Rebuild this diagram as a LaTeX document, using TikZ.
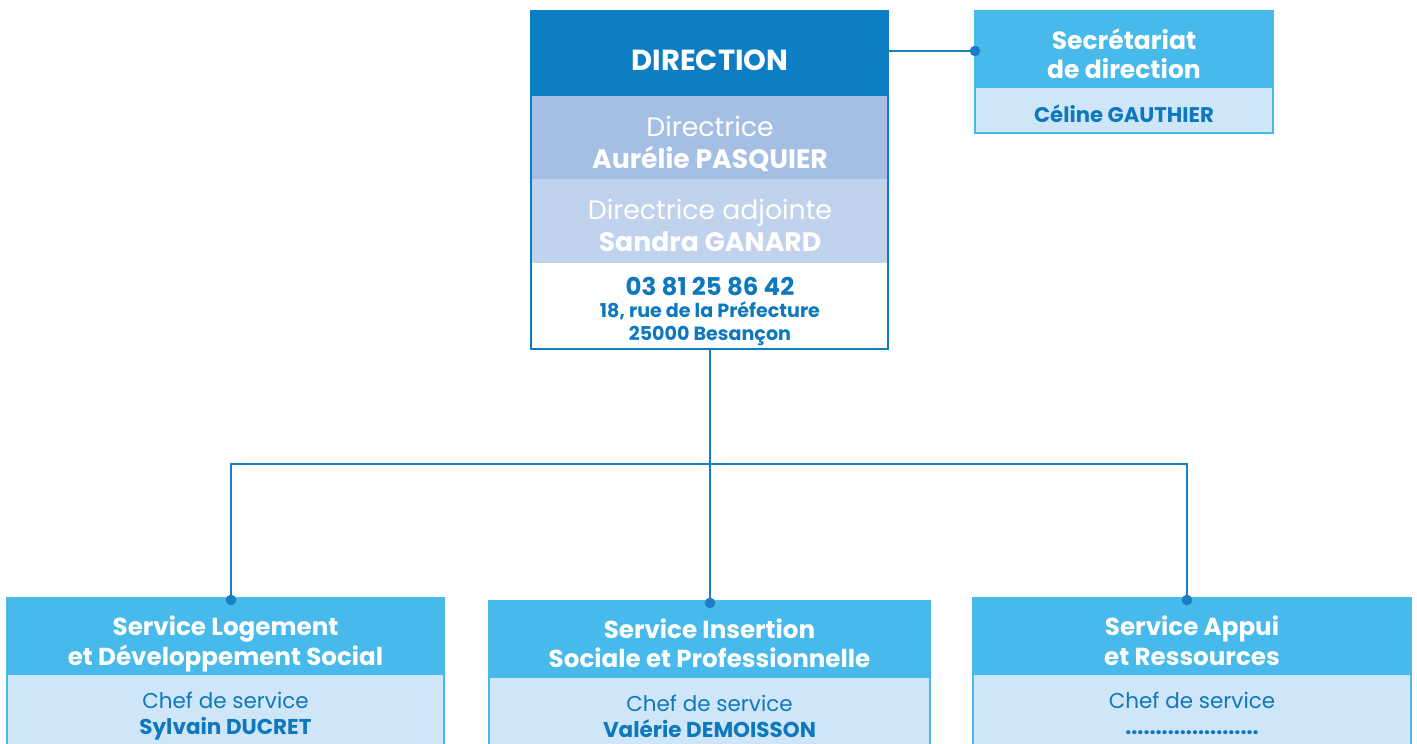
\documentclass[tikz,border=0pt]{standalone}
\usepackage{fontspec}
\setmainfont{Poppins}
\definecolor{dblue}{HTML}{0E7EC4}
\definecolor{bandA}{HTML}{A4BEE4}
\definecolor{bandB}{HTML}{C1D2ED}
\definecolor{lblue}{HTML}{47B9EA}
\definecolor{pale}{HTML}{CFE6F8}
\definecolor{conncol}{HTML}{1A7FC2}
\definecolor{tblue}{HTML}{0E78BE}
\tikzset{
  frame/.style={draw=#1, line width=2pt, inner sep=0pt, outer sep=0pt, anchor=north west},
  conn/.style={draw=conncol, line width=2pt},
  jdot/.style={fill=conncol},
  wtxt/.style={text=white, anchor=base, inner sep=0pt},
  btxt/.style={text=tblue, anchor=base, inner sep=0pt},
}
\begin{document}
\begin{tikzpicture}[x=1pt,y=-1pt]
\useasboundingbox (0,0) rectangle (1417,744);
\clip (0,0) rectangle (1417,744);
% ---------- Direction
\fill[dblue] (531,11) rectangle (888,96);
\fill[bandA] (531,96) rectangle (888,179);
\fill[bandB] (531,179) rectangle (888,263);
\node[frame=dblue, minimum width=357pt, minimum height=338pt] (dir) at (531,11) {};
\node[wtxt, font=\fontsize{29}{34}\selectfont\bfseries] (dirT) at (710,70) {DIRECTION};
\node[wtxt, font=\fontsize{26.7}{30}\selectfont] (d1) at (710,136) {Directrice};
\node[wtxt, font=\fontsize{26.7}{30}\selectfont\bfseries] (d2) at (710,168) {Aurélie PASQUIER};
\node[wtxt, font=\fontsize{26.7}{30}\selectfont] (d3) at (710,219) {Directrice adjointe};
\node[wtxt, font=\fontsize{26.7}{30}\selectfont\bfseries] (d4) at (710,251) {Sandra GANARD};
\node[btxt, font=\fontsize{24.5}{30}\selectfont\bfseries] (d5) at (710,295) {03 81 25 86 42};
\node[btxt, font=\fontsize{19.1}{23}\selectfont\bfseries] (d6) at (710,317) {18, rue de la Préfecture};
\node[btxt, font=\fontsize{19.1}{23}\selectfont\bfseries] (d7) at (710,340) {25000 Besançon};
% ---------- Secretariat
\fill[lblue] (975,11) rectangle (1273,88);
\fill[pale] (975,88) rectangle (1273,133);
\node[frame=lblue, minimum width=298pt, minimum height=122pt] (sec) at (975,11) {};
\node[wtxt, font=\fontsize{25}{30}\selectfont\bfseries] (s1) at (1124,49) {Secrétariat};
\node[wtxt, font=\fontsize{25}{30}\selectfont\bfseries] (s2) at (1124,78) {de direction};
\node[btxt, font=\fontsize{21.2}{24}\selectfont\bfseries] (s3) at (1124,122) {Céline GAUTHIER};
% ---------- Services
\fill[lblue] (7,598) rectangle (444,675);
\fill[pale] (7,675) rectangle (444,760);
\node[frame=lblue, minimum width=437pt, minimum height=170pt] (svA) at (7,598) {};
\node[wtxt, font=\fontsize{24.6}{29}\selectfont\bfseries] (a1) at (225.5,635) {Service Logement};
\node[wtxt, font=\fontsize{24.6}{29}\selectfont\bfseries] (a2) at (225.5,665) {et Développement Social};
\node[btxt, font=\fontsize{21.5}{26}\selectfont] (a3) at (225.5,708) {Chef de service};
\node[btxt, font=\fontsize{21.5}{26}\selectfont\bfseries] (a4) at (225.5,734) {Sylvain DUCRET};

\fill[lblue] (489,601) rectangle (930,678);
\fill[pale] (489,678) rectangle (930,760);
\node[frame=lblue, minimum width=441pt, minimum height=170pt] (svB) at (489,601) {};
\node[wtxt, font=\fontsize{24.6}{29}\selectfont\bfseries] (b1) at (709.5,638) {Service Insertion};
\node[wtxt, font=\fontsize{24.6}{29}\selectfont\bfseries] (b2) at (709.5,667) {Sociale et Professionnelle};
\node[btxt, font=\fontsize{21.5}{26}\selectfont] (b3) at (709.5,711) {Chef de service};
\node[btxt, font=\fontsize{21.5}{26}\selectfont\bfseries] (b4) at (709.5,737) {Valérie DEMOISSON};

\fill[lblue] (973,598) rectangle (1411,675);
\fill[pale] (973,675) rectangle (1411,760);
\node[frame=lblue, minimum width=438pt, minimum height=170pt] (svC) at (973,598) {};
\node[wtxt, font=\fontsize{24.6}{29}\selectfont\bfseries] (c1) at (1192,635) {Service Appui};
\node[wtxt, font=\fontsize{24.6}{29}\selectfont\bfseries] (c2) at (1192,665) {et Ressources};
\node[btxt, font=\fontsize{21.5}{26}\selectfont] (c3) at (1192,708) {Chef de service};
\node[btxt, font=\fontsize{21.5}{26}\selectfont\bfseries] (c4) at (1192,734) {......................};
% ---------- Connectors
\coordinate (secdot) at (975,51);
\coordinate (jA) at (231,600);
\coordinate (jB) at (710,603);
\coordinate (jC) at (1187,600);
\coordinate (bus) at (710,464);
\draw[conn] (secdot -| dir.east) -- (secdot);
\draw[conn] (dir.south -| jB) -- (jB);
\draw[conn] (jA) |- (bus) -| (jC);
\foreach \p in {secdot,jA,jB,jC} \fill[jdot] (\p) circle (5.3pt);
\end{tikzpicture}
\end{document}
